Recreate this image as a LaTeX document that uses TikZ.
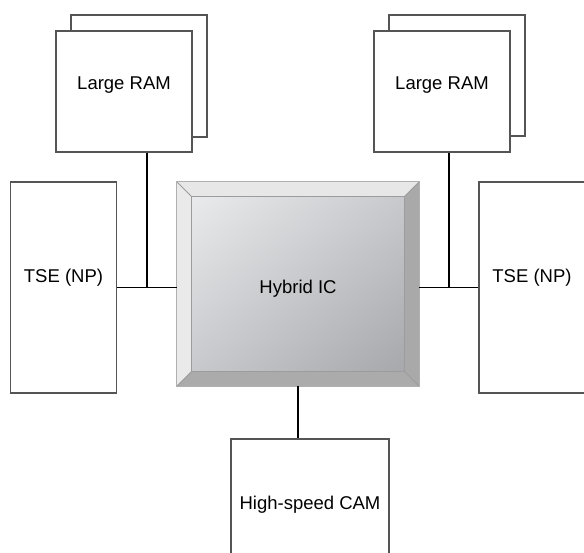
\documentclass[tikz,border=0pt]{standalone}
\usepackage{fontspec}
\setmainfont{Liberation Sans}
\usetikzlibrary{calc,backgrounds,shadings}
\definecolor{boxgray}{HTML}{555555}
\definecolor{bevtop}{HTML}{E7E7E7}
\definecolor{bevleft}{HTML}{EAEAEA}
\definecolor{bevright}{HTML}{A9A9A9}
\definecolor{bevbottom}{HTML}{ABABAB}
\definecolor{bevline}{HTML}{9C9C9C}
\definecolor{chiplight}{HTML}{E9EAEC}
\definecolor{chipmid}{HTML}{C8C9CC}
\definecolor{chipdark}{HTML}{A7A8AB}
\begin{document}
\begin{tikzpicture}[x=1pt,y=-1pt,
  box/.style={draw=boxgray, line width=1.2pt, fill=white, inner sep=0pt,
    font=\fontsize{18.5}{22}\selectfont, text=black,
    text height=13.2pt, text depth=0pt},
  wire/.style={draw=black, line width=1.9pt}]
\useasboundingbox (0,0) rectangle (584,553);
\clip (0,0) rectangle (584,553);

% memory banks: a shadow card behind each front card
\node[box, minimum width=136pt, minimum height=122pt] (ramLback) at (139,76) {};
\node[box, minimum width=136pt, minimum height=121pt] (ramL) at (124,91.5) {\raisebox{8.2pt}{Large RAM}};
\node[box, minimum width=136pt, minimum height=121pt] (ramRback) at (457,75.5) {};
\node[box, minimum width=136pt, minimum height=121pt] (ramR) at (442,91.5) {\raisebox{8.2pt}{Large RAM}};

% search engines on both sides
\node[box, minimum width=106pt, minimum height=211pt] (tseL) at (63.5,287.5) {\raisebox{11.5pt}{TSE (NP)}};
\node[box, minimum width=106pt, minimum height=211pt] (tseR) at (532,287.5) {\raisebox{11.5pt}{TSE (NP)}};

% CAM below the chip
\node[box, minimum width=158pt, minimum height=128pt] (cam) at (310,503) {High-speed CAM};

% the hybrid chip with bevelled frame
\node[inner sep=0pt, minimum width=242pt, minimum height=204pt,
  font=\fontsize{18.5}{22}\selectfont, text height=13.2pt, text depth=0pt]
  (hic) at (298,284) {\raisebox{-2.7pt}{Hybrid IC}};
\begin{scope}[on background layer]
  \coordinate (itl) at ($(hic.north west)+(15,15)$);
  \coordinate (itr) at ($(hic.north east)+(-15,15)$);
  \coordinate (ibl) at ($(hic.south west)+(15,-15)$);
  \coordinate (ibr) at ($(hic.south east)+(-15,-15)$);
  \fill[bevtop] (hic.north west) -- (hic.north east) -- (itr) -- (itl) -- cycle;
  \fill[bevleft] (hic.north west) -- (itl) -- (ibl) -- (hic.south west) -- cycle;
  \fill[bevright] (hic.north east) -- (hic.south east) -- (ibr) -- (itr) -- cycle;
  \fill[bevbottom] (hic.south west) -- (ibl) -- (ibr) -- (hic.south east) -- cycle;
  \shade[upper left=chiplight, upper right=chipmid, lower left=chipmid, lower right=chipdark]
    (itl) rectangle (ibr);
  \draw[bevline, line width=0.9pt] (itl) rectangle (ibr);
  \draw[bevline, line width=0.9pt] (hic.north west) -- (itl)
    (hic.north east) -- (itr) (hic.south west) -- (ibl) (hic.south east) -- (ibr);
  \draw[bevline!80, line width=1pt] (hic.north west) rectangle (hic.south east);
\end{scope}

% bus wiring
\coordinate (jL) at (147,287.5);
\coordinate (jR) at (449,287.5);
\draw[wire] (tseL.east) -- (tseL.east -| hic.west);
\draw[wire] (tseR.west) -- (tseR.west -| hic.east);
\draw[wire] (jL |- ramL.south) -- (jL);
\draw[wire] (jR |- ramR.south) -- (jR);
\draw[wire] (hic.south) -- (hic.south |- cam.north);
\end{tikzpicture}
\end{document}
